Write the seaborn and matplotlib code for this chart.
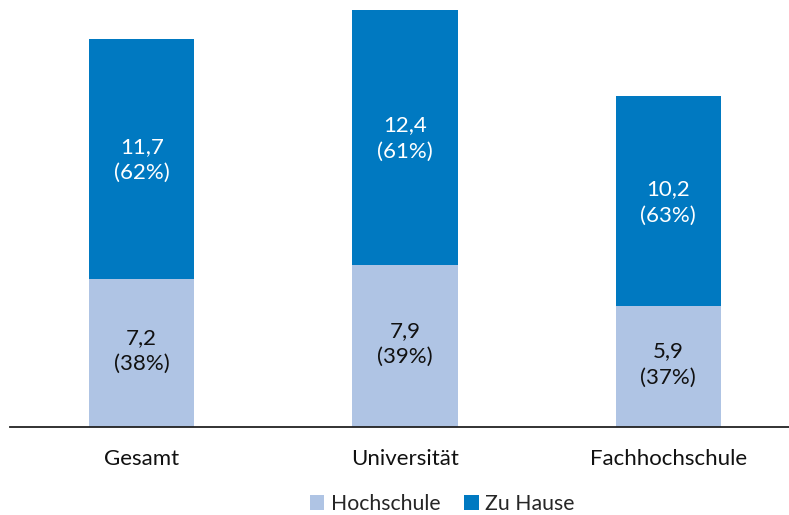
import matplotlib
matplotlib.use("Agg")
import matplotlib.pyplot as plt
import seaborn as sns
import pandas as pd
from matplotlib.patches import Patch

categories = ["Gesamt", "Universität", "Fachhochschule"]
hochschule = [7.2, 7.9, 5.9]
zu_hause = [11.7, 12.4, 10.2]
hochschule_pct = ["38%", "39%", "37%"]
zu_hause_pct = ["62%", "61%", "63%"]
series_names = ["Hochschule", "Zu Hause"]

light = "#AFC4E4"
dark = "#0079C1"

sns.set_theme(style="white")
plt.rcParams["font.family"] = ["Lato", "DejaVu Sans"]

totals = [h + z for h, z in zip(hochschule, zu_hause)]
df = pd.DataFrame({"cat": categories, "bottom": hochschule, "total": totals})

fig = plt.figure(figsize=(7.89, 5.15), dpi=100)
ax = fig.add_axes([10 / 789, 88 / 515, 790 / 789, 427 / 515])

sns.barplot(data=df, x="cat", y="total", color=dark, width=0.4, saturation=1, linewidth=0, ax=ax)
sns.barplot(data=df, x="cat", y="bottom", color=light, width=0.4, saturation=1, linewidth=0, ax=ax)

ax.set_xlim(-0.5, 2.5)
ax.set_ylim(0, 20.8)
ax.set_xlabel("")
ax.set_ylabel("")
ax.set_yticks([])
for s in ["left", "right", "top"]:
    ax.spines[s].set_visible(False)
ax.spines["bottom"].set_color("#222222")
ax.spines["bottom"].set_linewidth(1.3)

fs = 16
ax.set_xticks(range(len(categories)))
ax.set_xticklabels(categories, fontsize=fs, color="#111111")
ax.set_xticks([-0.5, 0.5, 1.5, 2.5], minor=True)
ax.tick_params(axis="x", which="major", length=0, pad=16)
ax.tick_params(axis="x", which="minor", length=6, width=1.3, color="#222222", direction="out")

for i in range(len(categories)):
    h = hochschule[i]
    z = zu_hause[i]
    ax.text(i, h / 2 + 0.1, f"{h:.1f}".replace(".", ",") + f"\n({hochschule_pct[i]})",
            ha="center", va="center", fontsize=fs, color="#111111", linespacing=1.4)
    ax.text(i, h + z / 2 - 0.05, f"{z:.1f}".replace(".", ",") + f"\n({zu_hause_pct[i]})",
            ha="center", va="center", fontsize=fs, color="white", linespacing=1.4)

handles = [Patch(facecolor=light, edgecolor="none"), Patch(facecolor=dark, edgecolor="none")]
fig.legend(handles, series_names, loc="center", bbox_to_anchor=(442 / 789, 11 / 515),
           ncol=2, frameon=False, fontsize=15.3, handlelength=0.7, handleheight=0.7,
           handletextpad=0.3, columnspacing=1.1, borderaxespad=0)

fig.savefig("out.png", dpi=100)
